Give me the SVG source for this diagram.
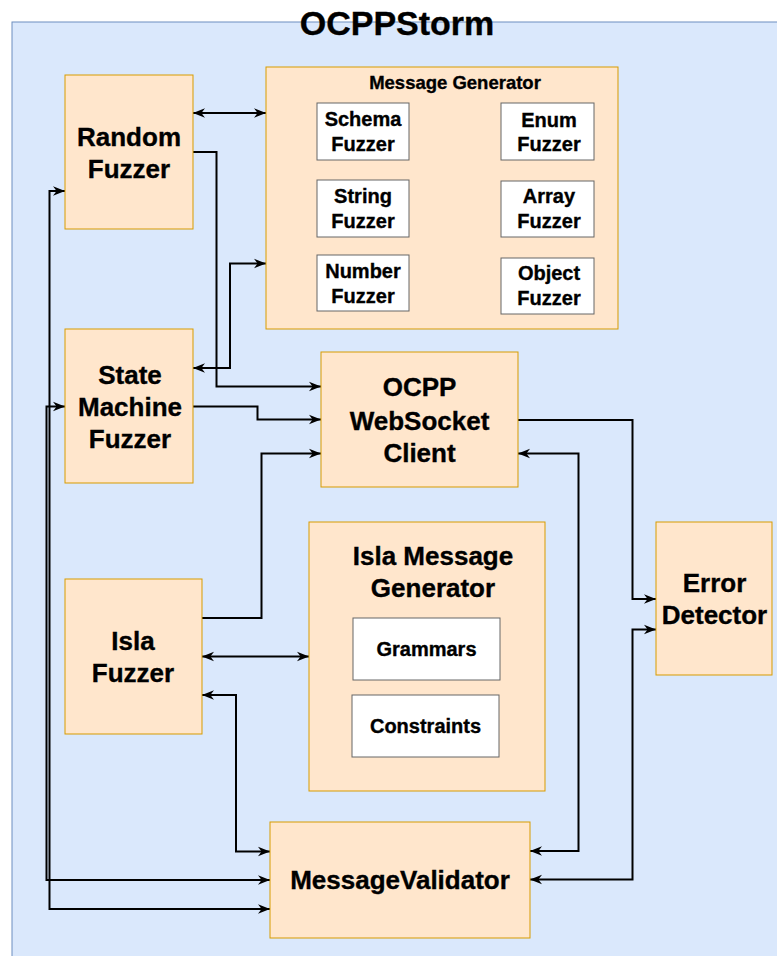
<svg xmlns="http://www.w3.org/2000/svg" width="777" height="956" viewBox="0 0 777 956">
  <style>
    .bg { fill: #ffffff; }
    .container { fill: #dae8fc; stroke: #6c8ebf; stroke-width: 1; }
    .node { fill: #ffe6cc; stroke: #d79b00; stroke-width: 1; }
    .inner { fill: #ffffff; stroke: #666666; stroke-width: 1; }
    .t { font-family: "Liberation Sans", Arial, Helvetica, sans-serif; font-weight: bold; fill: #000000; stroke: #000000; stroke-width: 0.35; text-anchor: middle; }
    .big { font-size: 26px; }
    .mid { font-size: 20px; }
    .sml { font-size: 18.5px; }
    .title { font-size: 34px; }
    .edge { fill: none; stroke: #000000; stroke-width: 2; }
    .end { marker-end: url(#arr); }
    .both { marker-start: url(#arr); marker-end: url(#arr); }
  </style>
  <defs>
    <marker id="arr" viewBox="0 0 10 10" refX="10" refY="5" markerWidth="12" markerHeight="12" markerUnits="userSpaceOnUse" orient="auto-start-reverse">
      <path d="M0,1 L10,5 L0,9 L3,5 z" fill="#000000"/>
    </marker>
  </defs>
  <rect class="bg" x="0" y="0" width="777" height="956"/>

  <g id="container">
    <rect class="container" x="12" y="22" width="790" height="950"/>
    <text class="t title" x="397" y="35">OCPPStorm</text>
  </g>

  <g id="connectors">
    <path class="edge both" d="M193,113 H266"/>
    <path class="edge end" d="M193,152 H216.5 V386.5 H321"/>
    <path class="edge both" d="M193,368 H230 V263.5 H266"/>
    <path class="edge end" d="M193,406.5 H257.5 V419.5 H321"/>
    <path class="edge end" d="M202,618 H261.5 V453.5 H321"/>
    <path class="edge end" d="M518,420 H632.5 V599 H656"/>
    <path class="edge both" d="M518,453.5 H578.5 V851 H530"/>
    <path class="edge both" d="M656,629.5 H632.5 V879.5 H530"/>
    <path class="edge both" d="M202,656.5 H309"/>
    <path class="edge both" d="M202,695 H236 V851.5 H270"/>
    <path class="edge both" d="M65,191 H49.5 V909 H270"/>
    <path class="edge both" d="M65,406.5 H46.5 V880 H270"/>
  </g>

  <g id="random-fuzzer">
    <rect class="node" x="65" y="75" width="128" height="154"/>
    <text class="t big" x="129" y="146">Random</text>
    <text class="t big" x="129" y="178">Fuzzer</text>
  </g>

  <g id="message-generator">
    <rect class="node" x="266" y="67" width="352" height="262"/>
    <text class="t sml" x="455" y="89">Message Generator</text>
  </g>
  <g id="schema-fuzzer">
    <rect class="inner" x="317" y="103" width="92" height="57"/>
    <text class="t mid" x="363" y="126">Schema</text>
    <text class="t mid" x="363" y="151">Fuzzer</text>
  </g>
  <g id="enum-fuzzer">
    <rect class="inner" x="501" y="103" width="93" height="57"/>
    <text class="t mid" x="549" y="126.5">Enum</text>
    <text class="t mid" x="549" y="151">Fuzzer</text>
  </g>
  <g id="string-fuzzer">
    <rect class="inner" x="317" y="180" width="92" height="57"/>
    <text class="t mid" x="363" y="203">String</text>
    <text class="t mid" x="363" y="228">Fuzzer</text>
  </g>
  <g id="array-fuzzer">
    <rect class="inner" x="501" y="181" width="93" height="56"/>
    <text class="t mid" x="549" y="203">Array</text>
    <text class="t mid" x="549" y="228">Fuzzer</text>
  </g>
  <g id="number-fuzzer">
    <rect class="inner" x="317" y="255" width="92" height="56"/>
    <text class="t mid" x="363" y="277.5">Number</text>
    <text class="t mid" x="363" y="302.5">Fuzzer</text>
  </g>
  <g id="object-fuzzer">
    <rect class="inner" x="501" y="258" width="93" height="56"/>
    <text class="t mid" x="549" y="280">Object</text>
    <text class="t mid" x="549" y="305">Fuzzer</text>
  </g>

  <g id="state-machine-fuzzer">
    <rect class="node" x="65" y="329" width="128" height="154"/>
    <text class="t big" x="130" y="384">State</text>
    <text class="t big" x="130" y="416">Machine</text>
    <text class="t big" x="130" y="448">Fuzzer</text>
  </g>

  <g id="ocpp-websocket-client">
    <rect class="node" x="321" y="352" width="197" height="135"/>
    <text class="t big" x="419.5" y="396">OCPP</text>
    <text class="t big" x="419.5" y="429.5">WebSocket</text>
    <text class="t big" x="419.5" y="462">Client</text>
  </g>

  <g id="error-detector">
    <rect class="node" x="656" y="522" width="116" height="153"/>
    <text class="t big" x="714.5" y="592">Error</text>
    <text class="t big" x="714.5" y="624">Detector</text>
  </g>

  <g id="isla-fuzzer">
    <rect class="node" x="65" y="579" width="137" height="155"/>
    <text class="t big" x="133" y="650">Isla</text>
    <text class="t big" x="133" y="682">Fuzzer</text>
  </g>

  <g id="isla-message-generator">
    <rect class="node" x="309" y="522" width="236" height="269"/>
    <text class="t big" x="433" y="565">Isla Message</text>
    <text class="t big" x="433" y="597">Generator</text>
  </g>
  <g id="grammars">
    <rect class="inner" x="353" y="618" width="147" height="62"/>
    <text class="t mid" x="426.5" y="655.5">Grammars</text>
  </g>
  <g id="constraints">
    <rect class="inner" x="352" y="695" width="147" height="62"/>
    <text class="t mid" x="425.5" y="732.5">Constraints</text>
  </g>

  <g id="message-validator">
    <rect class="node" x="270" y="822" width="260" height="116"/>
    <text class="t big" x="400" y="889">MessageValidator</text>
  </g>
</svg>
